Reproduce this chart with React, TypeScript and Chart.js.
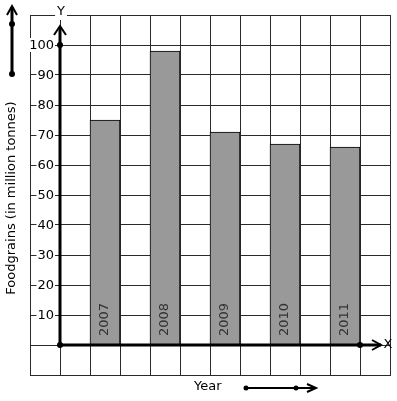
import { useEffect, useRef } from "react";
import { Chart, registerables } from "chart.js";

Chart.register(...registerables);

// ---- data ----
const slots = ["s0", "s1", "2007", "s3", "2008", "s5", "2009", "s7", "2010", "s9", "2011", "s11"];
const years = ["2007", "2008", "2009", "2010", "2011"];
const production = [75, 98, 71, 67, 66];
const yTickValues = [10, 20, 30, 40, 50, 60, 70, 80, 90, 100];
const yTitle = "Foodgrains (in million tonnes)";
const xTitle = "Year";
const yAxisName = "Y";
const xAxisName = "X";

const FONT = '13px "DejaVu Sans", sans-serif';

function chevronUp(ctx: CanvasRenderingContext2D, x: number, y: number, w: number, h: number) {
  ctx.beginPath();
  ctx.moveTo(x - w, y + h);
  ctx.lineTo(x, y);
  ctx.lineTo(x + w, y + h);
  ctx.stroke();
}
function chevronRight(ctx: CanvasRenderingContext2D, x: number, y: number, w: number, h: number) {
  ctx.beginPath();
  ctx.moveTo(x - w, y - h);
  ctx.lineTo(x, y);
  ctx.lineTo(x - w, y + h);
  ctx.stroke();
}
function dot(ctx: CanvasRenderingContext2D, x: number, y: number, r: number) {
  ctx.beginPath();
  ctx.arc(x, y, r, 0, Math.PI * 2);
  ctx.fill();
}

const overlay = {
  id: "overlay",
  afterDraw(chart: any) {
    const ctx: CanvasRenderingContext2D = chart.ctx;
    const xs = chart.scales.x;
    const ys = chart.scales.y;
    const area = chart.chartArea;
    const x0 = (xs.getPixelForValue(0) + xs.getPixelForValue(1)) / 2;
    const y0 = ys.getPixelForValue(0);
    const xEnd = (xs.getPixelForValue(10) + xs.getPixelForValue(11)) / 2;
    ctx.save();
    ctx.font = FONT;
    ctx.fillStyle = "#000";
    ctx.strokeStyle = "#000";

    // y tick labels with white background
    ctx.textAlign = "right";
    ctx.textBaseline = "middle";
    for (const v of yTickValues) {
      const py = ys.getPixelForValue(v);
      const t = String(v);
      const w = ctx.measureText(t).width;
      const rx = x0 - 6;
      ctx.fillStyle = "#fff";
      ctx.fillRect(rx - w - 1, py - 7, w + 2, 14);
      ctx.fillStyle = "#000";
      ctx.fillText(t, rx, py + 1);
    }

    // "Y" label on top border
    ctx.textAlign = "center";
    const yw = ctx.measureText(yAxisName).width;
    ctx.fillStyle = "#fff";
    ctx.fillRect(x0 + 1 - yw / 2 - 2, area.top - 7, yw + 4, 12);
    ctx.fillStyle = "#000";
    ctx.fillText(yAxisName, x0 + 1, area.top - 3);

    // bar year labels
    ctx.fillStyle = "#333";
    const meta = chart.getDatasetMeta(0);
    meta.data.forEach((el: any, i: number) => {
      const lab = slots[i];
      if (!years.includes(lab)) return;
      ctx.save();
      ctx.translate(el.x, y0 - 9);
      ctx.rotate(-Math.PI / 2);
      ctx.textAlign = "left";
      ctx.textBaseline = "middle";
      ctx.fillText(lab, 0, 0);
      ctx.restore();
    });

    // thick axes
    ctx.fillStyle = "#000";
    ctx.lineWidth = 3;
    ctx.beginPath();
    ctx.moveTo(x0, y0);
    ctx.lineTo(x0, area.top + 12);
    ctx.moveTo(x0, y0);
    ctx.lineTo(area.right - 9, y0);
    ctx.stroke();
    ctx.lineWidth = 2;
    chevronUp(ctx, x0, area.top + 11, 6, 9);
    chevronRight(ctx, area.right - 9, y0, 9, 5);
    dot(ctx, x0, ys.getPixelForValue(100), 3);
    dot(ctx, x0, y0, 3);
    dot(ctx, xEnd, y0, 3);

    // "X" label
    ctx.textAlign = "center";
    ctx.textBaseline = "middle";
    ctx.fillText(xAxisName, area.right - 2, y0);

    // y title
    ctx.save();
    ctx.translate(12, 198);
    ctx.rotate(-Math.PI / 2);
    ctx.textAlign = "center";
    ctx.textBaseline = "middle";
    ctx.fillText(yTitle, 0, 0);
    ctx.restore();

    // left vertical legend arrow
    ctx.lineWidth = 3;
    ctx.beginPath();
    ctx.moveTo(12, 74);
    ctx.lineTo(12, 7);
    ctx.stroke();
    ctx.lineWidth = 2;
    chevronUp(ctx, 12, 6, 5, 9);
    dot(ctx, 12, 24, 3);
    dot(ctx, 12, 74, 3);

    // x title + arrow
    ctx.textAlign = "left";
    ctx.textBaseline = "middle";
    ctx.fillText(xTitle, 194, 387);
    ctx.lineWidth = 2;
    ctx.beginPath();
    ctx.moveTo(246, 388);
    ctx.lineTo(315, 388);
    ctx.stroke();
    chevronRight(ctx, 316, 388, 9, 4);
    dot(ctx, 246, 388, 2.5);
    dot(ctx, 296, 388, 2.5);

    ctx.restore();
  },
};

export default function App() {
  const ref = useRef<HTMLCanvasElement | null>(null);
  useEffect(() => {
    if (!ref.current) return;
    const values = slots.map((s) => {
      const i = years.indexOf(s);
      return i >= 0 ? production[i] : null;
    });
    const chart = new Chart(ref.current, {
      type: "bar",
      data: {
        labels: slots,
        datasets: [
          {
            data: values,
            backgroundColor: "#999999",
            borderColor: "#000",
            borderWidth: 1,
            barPercentage: 1,
            categoryPercentage: 1,
          },
        ],
      },
      options: {
        responsive: false,
        animation: false,
        layout: { padding: { left: 30, top: 15, right: 7, bottom: 26 } },
        plugins: { legend: { display: false }, tooltip: { enabled: false } },
        scales: {
          x: {
            offset: true,
            ticks: { display: false },
            grid: { display: true, offset: true, drawTicks: false, color: "#2a2a2a", lineWidth: 1 },
            border: { display: true, color: "#2a2a2a", width: 1 },
          },
          y: {
            min: -10,
            max: 110,
            ticks: { display: false, stepSize: 10 },
            grid: { display: true, drawTicks: false, color: "#2a2a2a", lineWidth: 1 },
            border: { display: true, color: "#2a2a2a", width: 1 },
          },
        },
      },
      plugins: [overlay],
    });
    return () => chart.destroy();
  }, []);
  return (
    <div style={{ position: "fixed", left: 0, top: 0, width: 397, height: 401, background: "#fff" }}>
      <canvas ref={ref} width={397} height={401} style={{ display: "block" }} />
    </div>
  );
}
